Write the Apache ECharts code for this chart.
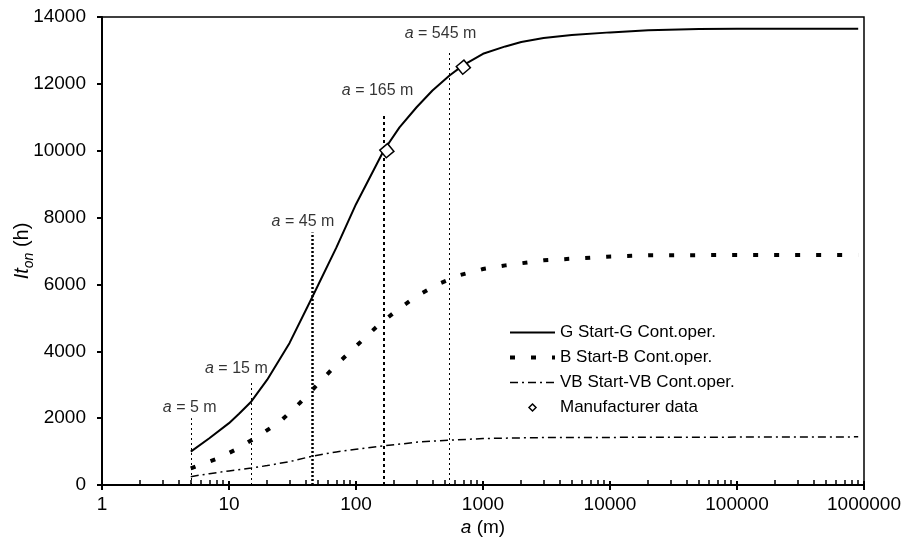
<!DOCTYPE html>
<html>
<head>
<meta charset="utf-8">
<script src="https://cdn.jsdelivr.net/npm/echarts@6.0.0/dist/echarts.min.js"></script>
<style>
  html, body { margin: 0; padding: 0; background: #fff; }
  #chart { width: 910px; height: 546px; }
</style>
</head>
<body>
<div id="chart"></div>
<script>
// Lifetime It_on (h) against distance a (m) for each start / continuous-operation class
const gA   = [5, 7, 10, 12, 15, 20, 30, 45, 70, 100, 165, 220, 300, 400, 545, 700, 1000, 1500, 2000, 3000, 5000, 10000, 20000, 50000, 100000, 900000];
const gIt  = [1000, 1400, 1850, 2130, 2500, 3150, 4250, 5600, 7100, 8400, 10000, 10700, 11300, 11800, 12250, 12560, 12900, 13120, 13250, 13370, 13460, 13540, 13600, 13640, 13650, 13650];

const bA   = [5, 8, 11.6, 16.6, 25, 36, 51, 71, 100, 144, 210, 300, 450, 660, 1000, 1500, 3000, 9400, 20000, 100000, 900000];
const bIt  = [500, 780, 1080, 1440, 1880, 2450, 3050, 3620, 4150, 4720, 5230, 5650, 6020, 6280, 6460, 6570, 6720, 6830, 6870, 6880, 6880];

const vbA  = [5, 7, 10, 15, 20, 30, 45, 70, 100, 165, 320, 545, 1000, 3000, 900000];
const vbIt = [250, 340, 420, 510, 580, 700, 860, 990, 1070, 1170, 1290, 1340, 1390, 1420, 1440];

const mfrA  = [175, 700];
const mfrIt = [10000, 12500];

// reference distances with the height of their marker lines
const refA   = [5, 15, 45, 165, 545];
const refTop = [2000, 3050, 7550, 11050, 12950];

const seriesNames = ['G Start-G Cont.oper.', 'B Start-B Cont.oper.', 'VB Start-VB Cont.oper.', 'Manufacturer data'];
const xRange = [1, 1000000];
const yTicks = [0, 2000, 4000, 6000, 8000, 10000, 12000, 14000];

const FONT = '"Liberation Sans", Arial, Helvetica, sans-serif';
const pairs = (xs, ys) => xs.map((x, i) => [x, ys[i]]);

// per-line look of the reference markers
const refWidth = [1, 1, 2.5, 2, 1];
const refDash  = [[2, 3], [2, 3], [2, 2], [3, 3], [2, 3]];
const refLabelDx = [-1, -15, -9, -6, -9];
const refLabelGap = [3, 6, 3, 17, 11];

// small hollow diamond for the legend (outer moves keep it small inside its box)
const legendDiamond = 'path://M0,0 M20,20 M10,5 L15,10 L10,15 L5,10 Z';

const chart = echarts.init(document.getElementById('chart'), null, { renderer: 'canvas' });

const option = {
  animation: false,
  backgroundColor: '#fff',
  textStyle: { fontFamily: FONT, color: '#000' },
  grid: {
    left: 102, right: 46, top: 17, bottom: 61,
    outerBoundsMode: 'none', containLabel: false,
    show: true, borderColor: '#000', borderWidth: 1.5, backgroundColor: 'transparent'
  },
  legend: {
    orient: 'vertical',
    left: 503, top: 319,
    itemWidth: 45, itemHeight: 14, itemGap: 8,
    data: [
      { name: seriesNames[0], itemStyle: { opacity: 0 }, lineStyle: { width: 2 } },
      { name: seriesNames[1], itemStyle: { opacity: 0 }, lineStyle: { width: 4 } },
      { name: seriesNames[2], itemStyle: { opacity: 0 }, lineStyle: { width: 1.5 } },
      { name: seriesNames[3], icon: legendDiamond, itemStyle: { color: '#fff', borderColor: '#000', borderWidth: 1.5 } }
    ],
    textStyle: { fontFamily: FONT, fontSize: 17, color: '#000' },
    inactiveColor: '#000'
  },
  xAxis: [
    {
      type: 'log', logBase: 10, min: xRange[0], max: xRange[1],
      name: '{i|a} (m)', nameLocation: 'middle', nameGap: 33, nameMoveOverlap: false,
      nameTextStyle: {
        fontFamily: FONT, fontSize: 19, color: '#000',
        rich: { i: { fontFamily: FONT, fontSize: 19, fontStyle: 'italic', color: '#000' } }
      },
      axisLine: { show: true, lineStyle: { color: '#000', width: 2 } },
      axisTick: { show: true, inside: false, length: 5, lineStyle: { color: '#000', width: 2 } },
      axisLabel: { fontFamily: FONT, fontSize: 19, color: '#000', margin: 10, formatter: v => String(v) },
      splitLine: { show: false }
    },
    {
      type: 'log', logBase: 10, min: xRange[0], max: xRange[1], position: 'bottom',
      axisLine: { show: false },
      axisTick: { show: true, inside: true, length: 4, lineStyle: { color: '#000', width: 2 } },
      minorTick: { show: true, splitNumber: 9, length: 5, lineStyle: { color: '#000', width: 1.5 } },
      axisLabel: { show: false },
      splitLine: { show: false }
    }
  ],
  yAxis: {
    type: 'value', min: yTicks[0], max: yTicks[yTicks.length - 1], interval: yTicks[1] - yTicks[0],
    name: '{i|It}{s|on}{n| (h)}', nameLocation: 'middle', nameRotate: 90, nameGap: 66, nameMoveOverlap: false,
    nameTextStyle: {
      fontFamily: FONT, color: '#000',
      rich: {
        i: { fontFamily: FONT, fontSize: 20, fontStyle: 'italic', color: '#000', lineHeight: 28, verticalAlign: 'middle' },
        s: { fontFamily: FONT, fontSize: 14, fontStyle: 'italic', color: '#000', lineHeight: 28, verticalAlign: 'bottom' },
        n: { fontFamily: FONT, fontSize: 20, color: '#000', lineHeight: 28, verticalAlign: 'middle' }
      }
    },
    axisLine: { show: true, lineStyle: { color: '#000', width: 2 } },
    axisTick: { show: true, inside: false, length: 5, lineStyle: { color: '#000', width: 2 } },
    axisLabel: { fontFamily: FONT, fontSize: 19, color: '#000', margin: 16, formatter: v => String(v) },
    splitLine: { show: false }
  },
  series: [
    {
      name: seriesNames[0], type: 'line', data: pairs(gA, gIt),
      symbol: 'none', smooth: false,
      lineStyle: { color: '#000', width: 2 }, itemStyle: { color: '#000' },
      markLine: {
        silent: true, symbol: ['none', 'none'], animation: false,
        label: { show: false },
        data: refA.map((a, i) => [
          { coord: [a, 0], lineStyle: { color: '#000', width: refWidth[i], type: refDash[i] } },
          { coord: [a, refTop[i]] }
        ])
      },
      z: 5
    },
    {
      name: seriesNames[1], type: 'line', data: pairs(bA, bIt),
      symbol: 'none', smooth: false,
      lineStyle: { color: '#000', width: 4, type: [5, 16], cap: 'butt' }, itemStyle: { color: '#000' },
      z: 4
    },
    {
      name: seriesNames[2], type: 'line', data: pairs(vbA, vbIt),
      symbol: 'none', smooth: false,
      lineStyle: { color: '#000', width: 1.5, type: [8, 4, 2, 4] }, itemStyle: { color: '#000' },
      z: 4
    },
    {
      name: seriesNames[3], type: 'scatter', data: pairs(mfrA, mfrIt),
      symbol: 'rect', symbolSize: 10, symbolRotate: 40,
      itemStyle: { color: '#fff', borderColor: '#000', borderWidth: 1.5, opacity: 1 },
      z: 6
    },
    {
      name: 'refLabels', type: 'scatter', silent: true,
      symbolSize: 0,
      data: refA.map((a, i) => ({
        value: [a, refTop[i]],
        label: {
          show: true, position: 'top', distance: refLabelGap[i], offset: [refLabelDx[i], 0],
          formatter: '{i|a} = ' + a + ' m',
          fontFamily: FONT, fontSize: 16, color: '#000',
          rich: { i: { fontFamily: FONT, fontSize: 16, fontStyle: 'italic', color: '#000' } }
        }
      })),
      z: 7
    }
  ]
};

chart.setOption(option);
</script>
</body>
</html>
